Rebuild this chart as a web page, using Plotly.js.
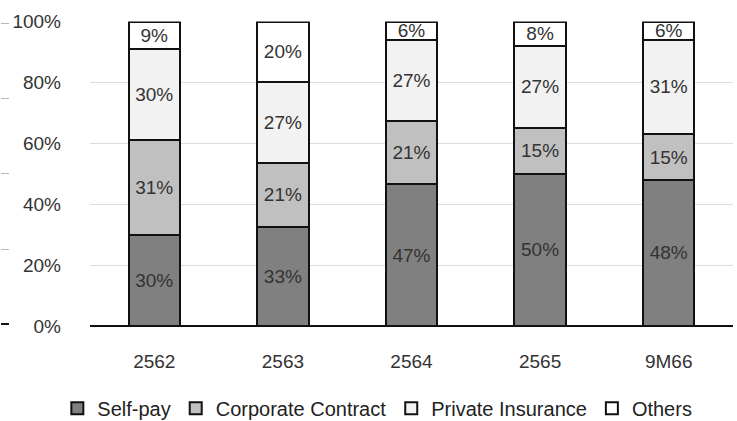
<!DOCTYPE html>
<html>
<head>
<meta charset="utf-8">
<script src="https://cdn.plot.ly/plotly-3.0.1.min.js"></script>
<style>
  html, body { margin: 0; padding: 0; background: #ffffff; }
  #chart { width: 737px; height: 421px; }
</style>
</head>
<body>
<div id="chart"></div>
<script>
// Revenue mix by payer type, share of total (%)
const periods = ['2562', '2563', '2564', '2565', '9M66'];
const selfPay = [30, 33, 47, 50, 48];
const corporateContract = [31, 21, 21, 15, 15];
const privateInsurance = [30, 27, 27, 27, 31];
const others = [9, 20, 6, 8, 6];

const yTickVals = [0, 20, 40, 60, 80, 100];
const yTickText = ['0%', '20%', '40%', '60%', '80%', '100%'];

const FONT = '"Liberation Sans", Arial, Helvetica, sans-serif';

// plot area, in pixels from the bottom of the 421px page
const PLOT_BOTTOM = 95;
const PLOT_TOP = 399.5;
const H = 421;

function series(name, values, fill) {
  return {
    type: 'bar',
    name: name,
    x: periods,
    y: values,
    text: values.map(v => v + '%'),
    textposition: 'inside',
    insidetextanchor: 'middle',
    textangle: 0,
    constraintext: 'none',
    textfont: { family: FONT, size: 19, color: '#333333' },
    marker: { color: fill, line: { color: '#111111', width: 2 } },
    hoverinfo: 'skip'
  };
}

const data = [
  series('Self-pay', selfPay, '#808080'),
  series('Corporate Contract', corporateContract, '#c0c0c0'),
  series('Private Insurance', privateInsurance, '#f2f2f2'),
  series('Others', others, '#ffffff'),
  // carriers for the short marks at the far left edge
  { type: 'scatter', x: [], y: [], yaxis: 'y2', showlegend: false, hoverinfo: 'skip' },
  { type: 'scatter', x: [], y: [], yaxis: 'y3', showlegend: false, hoverinfo: 'skip' }
];

// Edge axis padded by half a unit on both ends (same px per unit as the main axis)
const PAD = 0.5;
const pxPerUnit = (PLOT_TOP - PLOT_BOTTOM) / 100;
const edgeAxis = (vals, color, width) => ({
  overlaying: 'y',
  anchor: 'free',
  position: 0,
  side: 'right',
  domain: [(PLOT_BOTTOM - PAD * pxPerUnit) / H, (PLOT_TOP + PAD * pxPerUnit) / H],
  range: [-PAD, 100 + PAD],
  tickvals: vals,
  ticks: 'outside',
  ticklen: 8,
  tickwidth: width,
  tickcolor: color,
  showticklabels: false,
  showgrid: false,
  zeroline: false,
  showline: false,
  automargin: false,
  fixedrange: true
});

const layout = {
  width: 737,
  height: H,
  margin: { l: 0, r: 0, t: 0, b: 0, autoexpand: false },
  paper_bgcolor: '#ffffff',
  plot_bgcolor: '#ffffff',
  font: { family: FONT, size: 18, color: '#333333' },
  barmode: 'stack',
  barnorm: 'percent',
  bargap: 0.6,
  showlegend: true,
  legend: {
    orientation: 'h',
    x: 0.512,
    xanchor: 'center',
    y: 0.03,
    yanchor: 'middle',
    font: { family: FONT, size: 20, color: '#222222' },
    traceorder: 'normal',
    itemwidth: 30
  },
  xaxis: {
    domain: [90 / 737, 733 / 737],
    type: 'category',
    showgrid: false,
    zeroline: false,
    showline: false,
    ticks: '',
    ticklabelstandoff: 22,
    tickfont: { family: FONT, size: 19, color: '#333333' },
    automargin: false,
    fixedrange: true
  },
  yaxis: {
    domain: [PLOT_BOTTOM / H, PLOT_TOP / H],
    range: [0, 100],
    tickvals: yTickVals,
    ticktext: yTickText,
    showgrid: true,
    gridcolor: '#dddddd',
    gridwidth: 1,
    zeroline: true,
    zerolinecolor: '#111111',
    zerolinewidth: 2,
    showline: false,
    ticks: '',
    ticklabelstandoff: 28,
    tickfont: { family: FONT, size: 19, color: '#333333' },
    automargin: false,
    fixedrange: true
  },
  yaxis2: edgeAxis([25, 50, 75, 100], '#b8b8b8', 1),
  yaxis3: edgeAxis([0], '#111111', 2)
};

Plotly.newPlot('chart', data, layout, { displayModeBar: false, staticPlot: true });
</script>
</body>
</html>
